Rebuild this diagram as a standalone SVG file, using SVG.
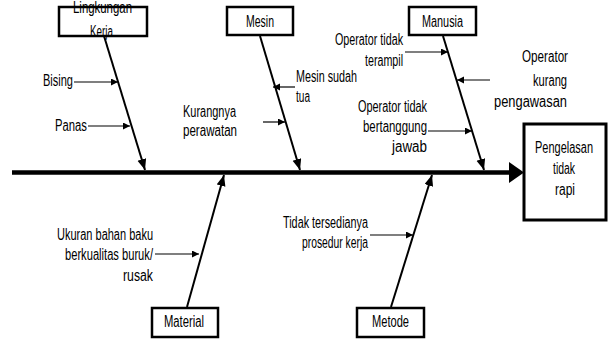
<svg xmlns="http://www.w3.org/2000/svg" width="609" height="341" viewBox="0 0 609 341">
<style>
text{font-family:"Liberation Sans Narrow","Liberation Sans",Arial,sans-serif;fill:#000}
.c{text-anchor:middle}
.box{fill:#fff;stroke:#000;stroke-width:2.5}
.eff{fill:#fff;stroke:#000;stroke-width:3}
.bone{stroke:#000;stroke-width:2;fill:none}
.sub{stroke:#000;stroke-width:1.2;fill:none}
</style>
<defs>
<marker id="big" markerUnits="userSpaceOnUse" markerWidth="12" markerHeight="10" refX="11" refY="4.5" orient="auto"><path d="M0,0 L11,4.5 L0,9 z" fill="#000"/></marker>
<marker id="sm" markerUnits="userSpaceOnUse" markerWidth="8" markerHeight="8" refX="7" refY="3.5" orient="auto"><path d="M0,0 L7,3.5 L0,7 z" fill="#000"/></marker>
</defs>
<g id="connectors">
<line x1="12" y1="172.5" x2="512" y2="172.5" stroke="#000" stroke-width="4.5"/>
<polygon points="509,162 524,172.5 509,183" fill="#000"/>
<line class="bone" x1="104" y1="36" x2="145" y2="170" marker-end="url(#big)"/>
<line class="bone" x1="260" y1="36" x2="300" y2="170" marker-end="url(#big)"/>
<line class="bone" x1="443" y1="36" x2="484" y2="170" marker-end="url(#big)"/>
<line class="bone" x1="187" y1="307" x2="224" y2="175" marker-end="url(#big)"/>
<line class="bone" x1="391" y1="307" x2="432" y2="175" marker-end="url(#big)"/>
<line class="sub" x1="74" y1="82" x2="118" y2="82" marker-end="url(#sm)"/>
<line class="sub" x1="88" y1="126" x2="130" y2="126" marker-end="url(#sm)"/>
<line class="sub" x1="295" y1="87" x2="273" y2="87" marker-end="url(#sm)"/>
<line class="sub" x1="263" y1="122" x2="285" y2="122" marker-end="url(#sm)"/>
<line class="sub" x1="405" y1="52" x2="448" y2="52" marker-end="url(#sm)"/>
<line class="sub" x1="490" y1="80" x2="457" y2="80" marker-end="url(#sm)"/>
<line class="sub" x1="428" y1="131" x2="472" y2="131" marker-end="url(#sm)"/>
<line class="sub" x1="155" y1="254" x2="199" y2="254" marker-end="url(#sm)"/>
<line class="sub" x1="370" y1="235" x2="413" y2="235" marker-end="url(#sm)"/>
</g>
<g font-size="16">
<g id="lingkungan">
<rect class="box" x="59" y="7" width="88" height="29"/>
<text class="c" x="102.5" y="13" textLength="59" lengthAdjust="spacingAndGlyphs">Lingkungan</text>
<text class="c" x="101.5" y="37" textLength="23" lengthAdjust="spacingAndGlyphs">Kerja</text>
</g>
<g id="mesin">
<rect class="box" x="227" y="7" width="66" height="28"/>
<text class="c" x="260" y="27" textLength="28" lengthAdjust="spacingAndGlyphs">Mesin</text>
</g>
<g id="manusia">
<rect class="box" x="409" y="7" width="67" height="28"/>
<text class="c" x="442.5" y="27" textLength="41" lengthAdjust="spacingAndGlyphs">Manusia</text>
</g>
<g id="material">
<rect class="box" x="152" y="308" width="66" height="29"/>
<text class="c" x="184" y="327" textLength="40" lengthAdjust="spacingAndGlyphs">Material</text>
</g>
<g id="metode">
<rect class="box" x="357" y="308" width="67" height="29"/>
<text class="c" x="390.5" y="327" textLength="37" lengthAdjust="spacingAndGlyphs">Metode</text>
</g>
<g id="effect">
<rect class="eff" x="524" y="124" width="82" height="96"/>
<text class="c" x="564" y="153" textLength="58" lengthAdjust="spacingAndGlyphs">Pengelasan</text>
<text class="c" x="564" y="174" textLength="22" lengthAdjust="spacingAndGlyphs">tidak</text>
<text class="c" x="565" y="195" textLength="20" lengthAdjust="spacingAndGlyphs">rapi</text>
</g>
<g id="labels">
<text x="43" y="86" textLength="30" lengthAdjust="spacingAndGlyphs">Bising</text>
<text x="55" y="131" textLength="32" lengthAdjust="spacingAndGlyphs">Panas</text>
<text x="296" y="82" textLength="61" lengthAdjust="spacingAndGlyphs">Mesin sudah</text>
<text x="296" y="102" textLength="14" lengthAdjust="spacingAndGlyphs">tua</text>
<text x="183" y="117" textLength="53" lengthAdjust="spacingAndGlyphs">Kurangnya</text>
<text x="183" y="136" textLength="54" lengthAdjust="spacingAndGlyphs">perawatan</text>
<text x="335" y="45" textLength="68" lengthAdjust="spacingAndGlyphs">Operator tidak</text>
<text x="365" y="66" textLength="38" lengthAdjust="spacingAndGlyphs">terampil</text>
<text x="522" y="62" textLength="46" lengthAdjust="spacingAndGlyphs">Operator</text>
<text x="533" y="86" textLength="34" lengthAdjust="spacingAndGlyphs">kurang</text>
<text x="494" y="107" textLength="73" lengthAdjust="spacingAndGlyphs">pengawasan</text>
<text x="358" y="112" textLength="69" lengthAdjust="spacingAndGlyphs">Operator tidak</text>
<text x="363" y="132" textLength="64" lengthAdjust="spacingAndGlyphs">bertanggung</text>
<text x="392" y="152" textLength="35" lengthAdjust="spacingAndGlyphs">jawab</text>
<text x="57" y="240" textLength="96" lengthAdjust="spacingAndGlyphs">Ukuran bahan baku</text>
<text x="65" y="260" textLength="88" lengthAdjust="spacingAndGlyphs">berkualitas buruk/</text>
<text x="123" y="281" textLength="30" lengthAdjust="spacingAndGlyphs">rusak</text>
<text x="283" y="228" textLength="85" lengthAdjust="spacingAndGlyphs">Tidak tersedianya</text>
<text x="302" y="248" textLength="66" lengthAdjust="spacingAndGlyphs">prosedur kerja</text>
</g>
</g>
</svg>
